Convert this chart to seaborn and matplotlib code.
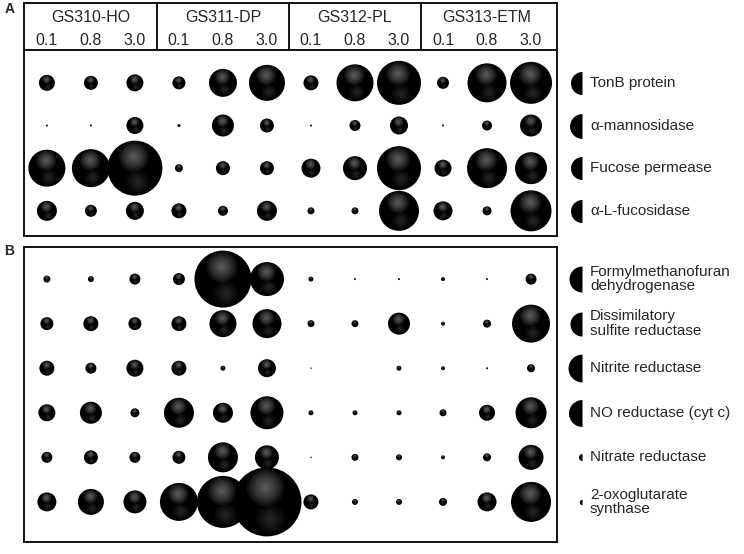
import numpy as np
import pandas as pd
import seaborn as sns
import matplotlib
matplotlib.use('Agg')
import matplotlib.pyplot as plt

SAMPLES = ['GS310-HO', 'GS311-DP', 'GS312-PL', 'GS313-ETM']
FRACTIONS = ['0.1', '0.8', '3.0']

GENES_A = ['TonB protein', 'α-mannosidase', 'Fucose permease', 'α-L-fucosidase']
GENES_B = ['Formylmethanofuran\ndehydrogenase', 'Dissimilatory\nsulfite reductase',
           'Nitrite reductase', 'NO reductase (cyt c)', 'Nitrate reductase',
           '2-oxoglutarate\nsynthase']

# relative abundance per gene, 12 columns = 4 samples x 3 size fractions
tonb = [2.56, 1.96, 2.89, 1.69, 7.84, 12.96, 2.25, 13.69, 19.36, 1.44, 15.21, 17.64]
mannosidase = [0.04, 0.04, 2.89, 0.09, 4.84, 1.96, 0.04, 1.21, 3.24, 0.04, 1.0, 4.84]
fucose_permease = [13.69, 14.44, 30.25, 0.64, 1.96, 1.96, 3.61, 5.76, 19.36, 2.89, 16.0, 10.24]
fucosidase = [4.0, 1.44, 3.24, 2.25, 1.0, 4.0, 0.49, 0.49, 16.0, 3.61, 0.81, 16.81]

formylmethanofuran = [0.49, 0.36, 1.21, 1.44, 32.5, 11.56, 0.25, 0.04, 0.04, 0.16, 0.04, 1.21]
sulfite_red = [1.69, 2.25, 1.69, 2.25, 7.29, 8.41, 0.49, 0.49, 4.84, 0.16, 0.64, 14.44]
nitrite_red = [2.25, 1.21, 2.89, 2.25, 0.25, 3.24, 0.02, 0.0, 0.25, 0.16, 0.04, 0.64]
no_red = [2.89, 4.84, 0.81, 9.0, 4.0, 10.89, 0.25, 0.25, 0.25, 0.49, 2.56, 9.61]
nitrate_red = [1.21, 1.96, 1.21, 1.69, 9.0, 5.76, 0.02, 0.49, 0.36, 0.16, 0.64, 6.25]
oxoglutarate = [3.61, 6.76, 5.29, 14.44, 27.04, 47.61, 2.25, 0.36, 0.36, 0.64, 3.61, 16.0]

# half-sphere markers next to the gene names
icons_a = [5.3, 6.2, 5.3, 5.3]
icons_b = [6.8, 5.8, 7.8, 7.3, 0.5, 0.3]

VMAX = 50.0
SMAX = 2592.0   # pt^2 at VMAX

columns = [f'{s} {f}' for s in SAMPLES for f in FRACTIONS]


def long_table(genes, rows):
    recs = []
    for i, (g, vals) in enumerate(zip(genes, rows)):
        for j, v in enumerate(vals):
            recs.append({'gene': g, 'row': i, 'sample': columns[j], 'col': j, 'value': v})
    return pd.DataFrame(recs)


df_a = long_table(GENES_A, [tonb, mannosidase, fucose_permease, fucosidase])
df_b = long_table(GENES_B, [formylmethanofuran, sulfite_red, nitrite_red,
                            no_red, nitrate_red, oxoglutarate])

sns.set_style('white')
plt.rcParams['font.family'] = ['Liberation Sans', 'DejaVu Sans']

fig = plt.figure(figsize=(7.44, 5.54), dpi=100)
L, W = 24 / 744, 533 / 744
hdr = fig.add_axes([L, 1 - 50 / 554, W, 47 / 554])
ax_a = fig.add_axes([L, 1 - 236 / 554, W, 186 / 554])
ax_b = fig.add_axes([L, 1 - 542 / 554, W, 295 / 554])
XLIM = (-0.52, 11.59)


def shade(ax, coll):
    # fake sphere lighting: stacked translucent discs inside each bubble
    xy = np.asarray(coll.get_offsets())
    s = np.asarray(coll.get_sizes())
    r = np.sqrt(s) / 2 * fig.dpi / 72
    disp = ax.transData.transform(xy)

    def at(dx, dy):
        d = disp + np.column_stack([dx * r, dy * r])
        return ax.transData.inverted().transform(d)

    p = at(-0.04, 0.42)
    for f in np.linspace(0.55, 0.08, 8):
        ax.scatter(p[:, 0], p[:, 1], s=s * f ** 2, color='#b8b8b8', alpha=0.08,
                   linewidth=0, zorder=3)
    p = at(0.1, -0.5)
    for f in np.linspace(0.42, 0.1, 5):
        ax.scatter(p[:, 0], p[:, 1], s=s * f ** 2, color='#9a9a9a', alpha=0.05,
                   linewidth=0, zorder=3)


def panel(ax, df, genes, icons, ylim):
    sns.scatterplot(data=df, x='col', y='row', size='value', sizes=(0, SMAX),
                    size_norm=(0, VMAX), color='black', linewidth=0,
                    legend=False, ax=ax, zorder=2)
    ax.set_xlim(*XLIM)
    ax.set_ylim(*ylim)
    ax.set_xticks([])
    ax.set_yticks([])
    ax.set_xlabel('')
    ax.set_ylabel('')
    for sp in ax.spines.values():
        sp.set_linewidth(1.4)
        sp.set_color('#111111')
    shade(ax, ax.collections[0])
    tr = ax.get_yaxis_transform()
    for i, (g, v) in enumerate(zip(genes, icons)):
        ax.plot([1.046], [i], marker='o', fillstyle='left', linestyle='none',
                markersize=np.sqrt(v * SMAX / VMAX), color='black',
                markeredgewidth=0, transform=tr, clip_on=False)
        ax.text(1.062, i, g, transform=tr, ha='left', va='center',
                fontsize=11, linespacing=1.05)


panel(ax_a, df_a, GENES_A, icons_a, (3.59, -0.77))
panel(ax_b, df_b, GENES_B, icons_b, (5.9, -0.72))

# header box with sample names and size fractions
hdr.set_xlim(*XLIM)
hdr.set_ylim(0, 1)
hdr.set_xticks([])
hdr.set_yticks([])
for sp in hdr.spines.values():
    sp.set_linewidth(1.4)
    sp.set_color('#111111')
for k, s in enumerate(SAMPLES):
    hdr.text(3 * k + 1, 0.69, s, ha='center', va='center', fontsize=11.5)
    for m, f in enumerate(FRACTIONS):
        hdr.text(3 * k + m, 0.2, f, ha='center', va='center', fontsize=11.5)
    if k > 0:
        hdr.axvline(3 * k - 0.5, color='#111111', linewidth=1.4)

fig.text(0.006, 1 - 9 / 554, 'A', fontsize=10, fontweight='bold', va='center')
fig.text(0.006, 1 - 251 / 554, 'B', fontsize=10, fontweight='bold', va='center')

fig.savefig('out.png', dpi=100)
